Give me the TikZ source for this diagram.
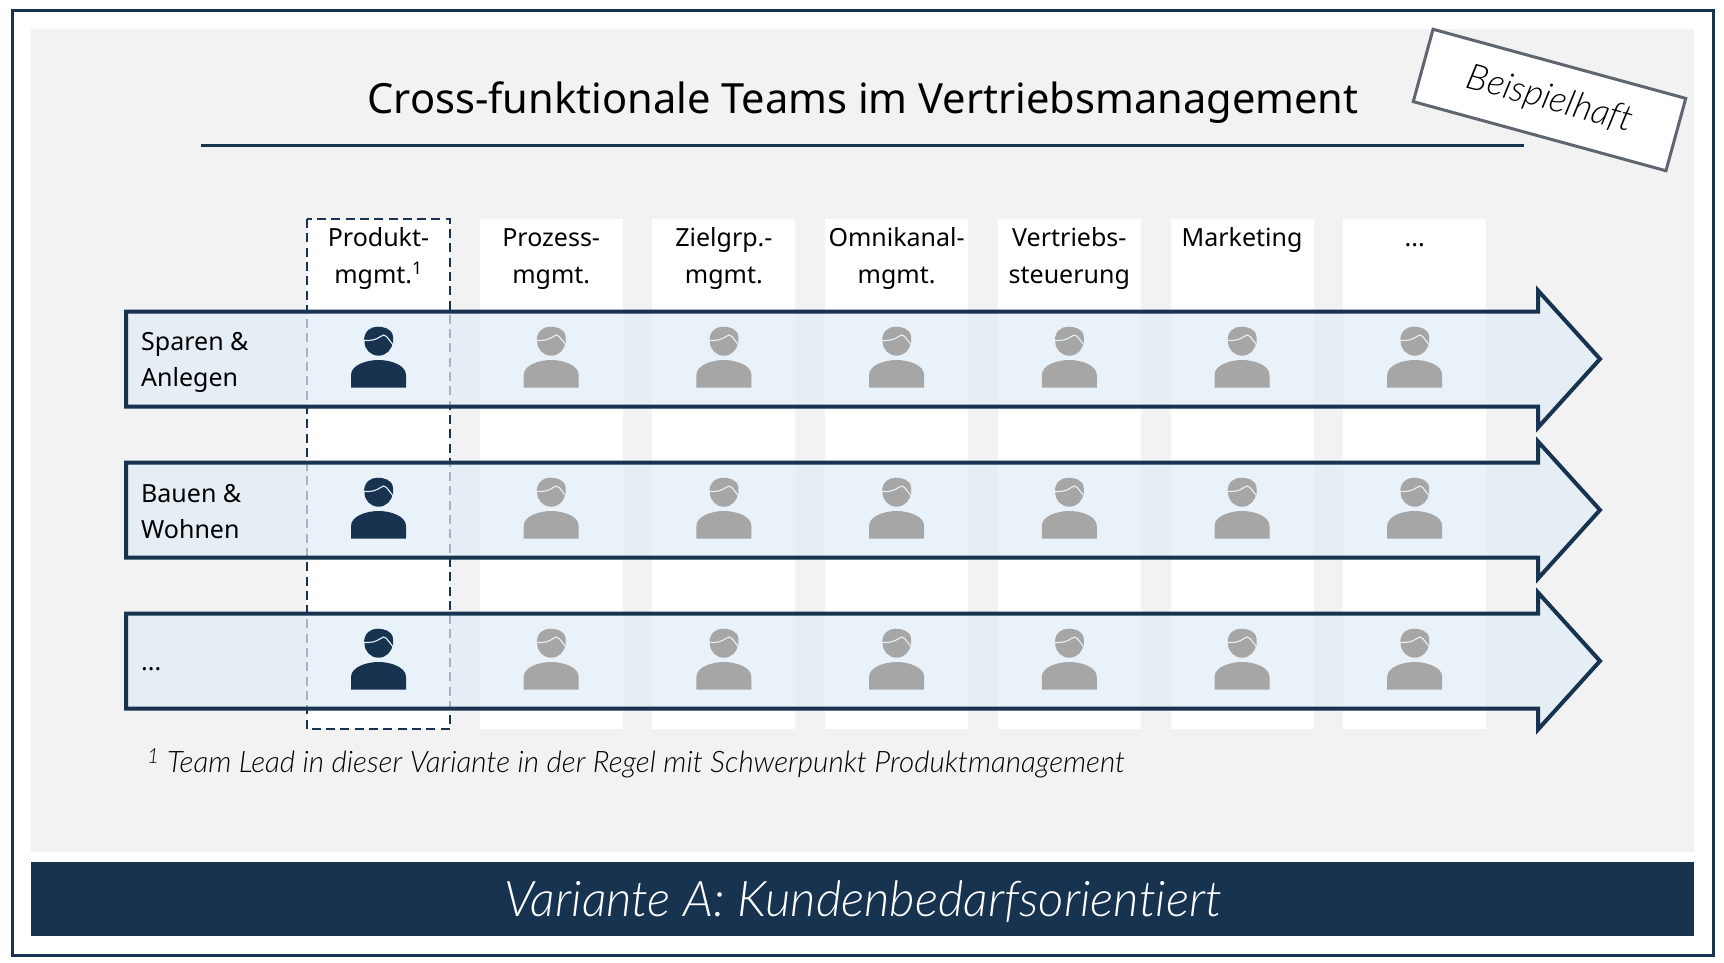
\documentclass[tikz,border=0pt]{standalone}
\usepackage{fontspec}
\setmainfont{Noto Sans}
\IfFontExistsTF{Lato Light}{\newfontfamily\lightfont[Ligatures=NoCommon]{Lato Light}}{\newfontfamily\lightfont{Noto Sans}}
\usepackage{xcolor}
\definecolor{navy}{HTML}{173350}
\definecolor{panelgrey}{HTML}{F2F2F2}
\definecolor{persongrey}{HTML}{A6A6A6}
\definecolor{stampgrey}{HTML}{5F6670}
\definecolor{arrowfill}{HTML}{E0ECF7}
\definecolor{hairline}{HTML}{E9F0F8}
\tikzset{
    column/.style={fill=white, draw=none},
    header/.style={anchor=north, align=center, inner sep=0pt, font=\fontsize{25}{36.5}\selectfont},
    rowlabel/.style={anchor=west, align=left, inner sep=0pt, font=\fontsize{25}{36}\selectfont},
    pics/person/.style={code={
        \fill[#1] (-27.5,28.5) -- (-27.5,16) .. controls (-27.5,6) and (-12,1) .. (0,1)
            .. controls (12,1) and (27.5,6) .. (27.5,16) -- (27.5,28.5) -- cycle;
        \fill[#1] (0,-17.3) circle (14);
        \fill[#1] (-14.5,-19) .. controls (-14,-28) and (-8,-32.3) .. (-1,-32.3)
            .. controls (4,-32.3) and (14,-31) .. (14.5,-22) -- (14.5,-15) -- cycle;
        \draw[hairline, line width=1.1pt] (-15.8,-19) .. controls (-8,-17.5) and (-2,-19.5) .. (2,-22.5)
            .. controls (4.5,-24.5) and (6,-24.5) .. (8,-22.5) -- (14.2,-14.7);
    }},
    pics/leadarrow/.style={code={
        \path[fill=arrowfill, fill opacity=.7] (126,-47.5) -- (1538,-47.5) -- (1538,-68.5) -- (1600,0)
            -- (1538,68.5) -- (1538,47.5) -- (126,47.5) -- cycle;
        \draw[navy, line width=4pt, miter limit=10] (126,-47.5) -- (1538,-47.5) -- (1538,-68.5) -- (1600,0)
            -- (1538,68.5) -- (1538,47.5) -- (126,47.5) -- cycle;
    }}
}
\begin{document}
\begin{tikzpicture}[x=1pt,y=-1pt]
    \useasboundingbox (0,0) rectangle (1724,962);

    % Frame, panel and band
    \draw[navy, line width=3pt] (12.7,10.5) rectangle (1713,955.5);
    \fill[panelgrey] (31,29) rectangle (1694,852);
    \fill[navy] (31,862) rectangle (1694,936);
    \node[text=white, font=\fontsize{49.2}{54}\selectfont\lightfont\itshape] (variante) at (863,902) {Variante A: Kundenbedarfsorientiert};

    % Title
    \node[font=\fontsize{41.6}{48}\selectfont] (title) at (863,103) {Cross-funktionale Teams im Vertriebsmanagement};
    \draw[navy, line width=3pt] (201,145) -- (1524,145);

    % Stamp
    \node[draw=stampgrey, fill=white, line width=3pt, rotate=-15.3, minimum width=262pt, minimum height=75pt,
        font=\fontsize{36}{40}\selectfont\lightfont\itshape] (stamp) at (1549.5,100) {Beispielhaft};

    % Columns
    \foreach \colx in {551.2,723.9,896.6,1069.3,1242,1414.7}
        \fill[column] (\colx-71.5,219) rectangle (\colx+71.5,729);
    \fill[column] (307,219) rectangle (450,729);
    \draw[navy, line width=2.3pt, dash pattern=on 9pt off 5.3pt] (307,219) rectangle (450,729);

    % Value streams
    \foreach \rowy in {359,510,661}
        \pic at (0,\rowy) {leadarrow};

    % Persons
    \foreach \rowy in {359,510,661} {
        \pic at (378.5,\rowy) {person=navy};
        \foreach \colx in {551.2,723.9,896.6,1069.3,1242,1414.7}
            \pic at (\colx,\rowy) {person=persongrey};
    }

    % Column headers
    \node[header] (produkt) at (378.5,221) {\strut Produkt-\\mgmt.\textsuperscript{1}};
    \node[header] (prozess) at (551.2,221) {\strut Prozess-\\mgmt.};
    \node[header] (zielgrp) at (723.9,221) {\strut Zielgrp.-\\mgmt.};
    \node[header] (omnikanal) at (896.6,221) {\strut Omnikanal-\\mgmt.};
    \node[header] (steuerung) at (1069.3,221) {\strut Vertriebs-\\steuerung};
    \node[header] (marketing) at (1242,221) {\strut Marketing};
    \node[header] (weitere) at (1414.7,221) {\strut ...};

    % Row labels
    \node[rowlabel] (sparen) at (141,362) {Sparen \&\\Anlegen};
    \node[rowlabel] (bauen) at (141,512) {Bauen \&\\Wohnen};
    \node[rowlabel] (sonstige) at (141,663) {\strut ...};

    % Footnote
    \node[anchor=west, inner sep=0pt, font=\fontsize{29.6}{34}\selectfont\lightfont\itshape] (footnote) at (147,763)
        {\textsuperscript{1} Team Lead in dieser Variante in der Regel mit Schwerpunkt Produktmanagement};
\end{tikzpicture}
\end{document}
